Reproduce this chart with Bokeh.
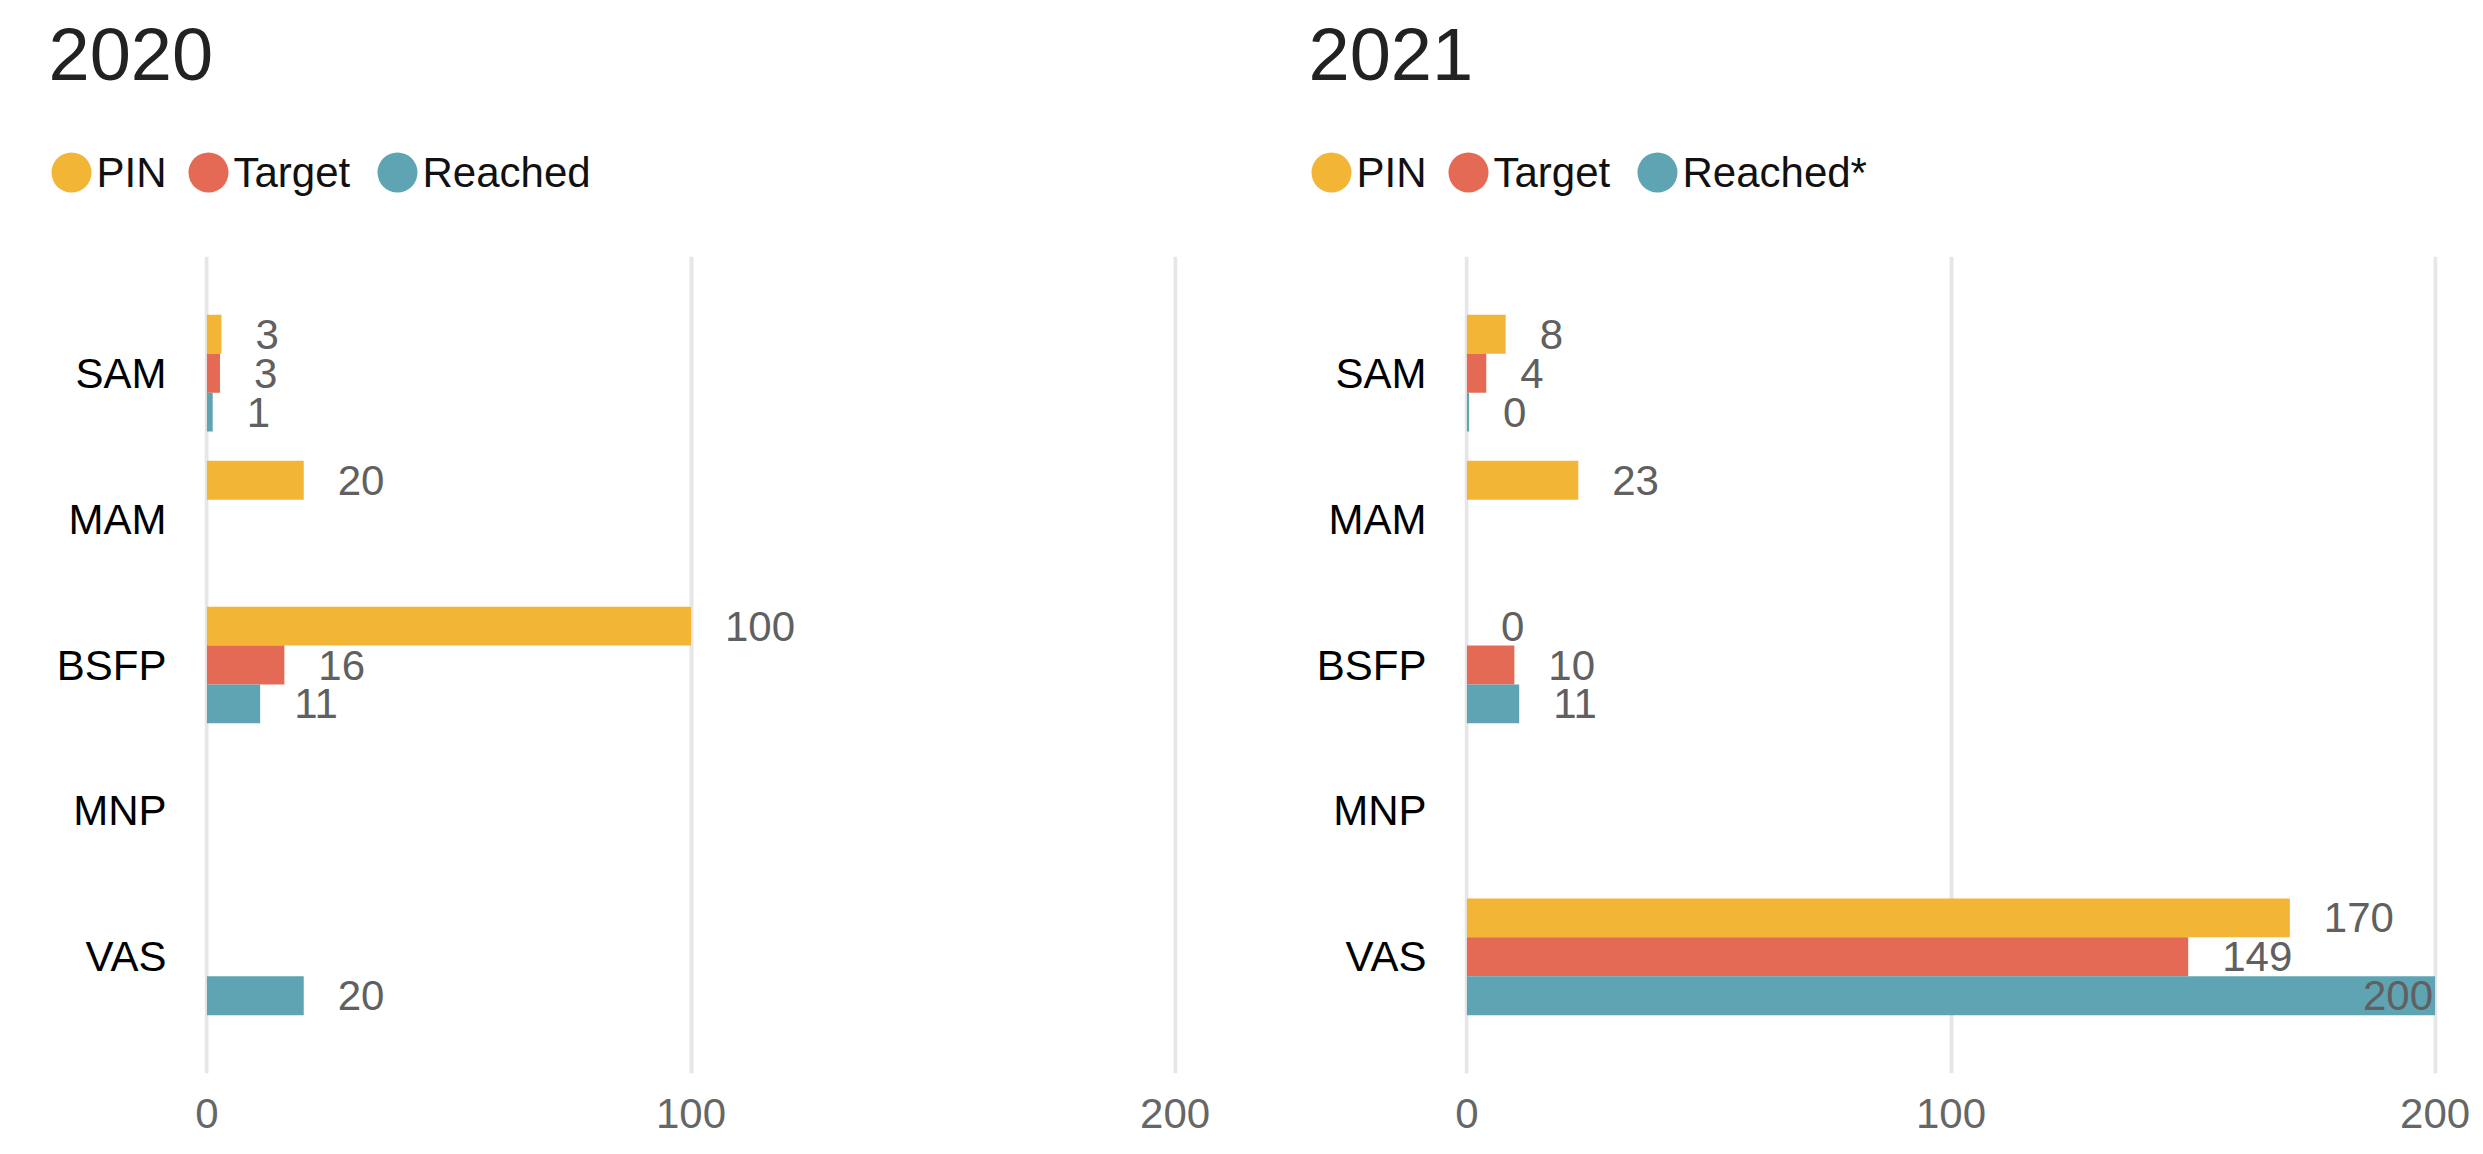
from bokeh.plotting import figure
from bokeh.models import ColumnDataSource, FactorRange, Range1d, FixedTicker
from bokeh.transform import dodge
from bokeh.layouts import row, column
from bokeh.embed import file_html
from bokeh.resources import INLINE
from bokeh.core.properties import value

# ---------------- data ----------------
categories = ["SAM", "MAM", "BSFP", "MNP", "VAS"]
series = ["PIN", "Target", "Reached"]

pin_2020 = [3, 20, 100, None, None]
target_2020 = [2.7, None, 16, None, None]
reached_2020 = [1.2, None, 11, None, 20]

pin_2021 = [8, 23, 0, None, 170]
target_2021 = [4, None, 9.8, None, 149]
reached_2021 = [0.45, None, 10.8, None, 200]

x_ticks = [0, 100, 200]
legend_2020 = ["PIN", "Target", "Reached"]
legend_2021 = ["PIN", "Target", "Reached*"]

# ---------------- style / layout ----------------
COLORS = ["#F2B535", "#E56A55", "#5FA4B3"]
FONT = "Liberation Sans"
BAR_H = 0.2667
OFFSETS = [BAR_H, 0.0, -BAR_H]
HEADER_H = 256
CHART_H = 890
LEGEND_X = [71, 208, 397]      # circle centres, px from panel left
LEGEND_Y = 84                  # px from header bottom
LEGEND_TEXT_DX = 25
TITLE_X = 48
TITLE_Y = 202


def make_header(title, legend_labels, width):
    h = figure(width=width, height=HEADER_H, title=None,
               x_range=Range1d(0, width), y_range=Range1d(0, HEADER_H),
               output_backend="svg", toolbar_location=None,
               min_border_left=0, min_border_right=0,
               min_border_top=0, min_border_bottom=0,
               x_axis_location=None, y_axis_location=None)
    h.frame_align = False
    h.outline_line_color = None
    h.grid.visible = False
    h.text(x=[TITLE_X], y=[TITLE_Y], text=[title], text_font=value(FONT),
           text_font_size="74px", text_color="#222222",
           text_baseline="alphabetic", text_align="left")
    h.scatter(x=LEGEND_X, y=[LEGEND_Y] * len(LEGEND_X), marker="circle",
              size=40, fill_color=COLORS, line_color=None)
    h.text(x=[lx + LEGEND_TEXT_DX for lx in LEGEND_X], y=[LEGEND_Y] * len(LEGEND_X),
           text=legend_labels, text_font=value(FONT), text_font_size="42px",
           text_color="#111111", text_baseline="middle", text_align="left")
    return h


def make_chart(data, width, border_right):
    p = figure(width=width, height=CHART_H, title=None,
               y_range=FactorRange(factors=categories[::-1], range_padding=0.12),
               x_range=Range1d(-0.5, 200.5),
               output_backend="svg", toolbar_location=None,
               min_border_left=204, min_border_right=border_right,
               min_border_top=0, min_border_bottom=73)
    p.frame_align = False
    p.outline_line_color = None
    p.background_fill_color = "white"

    for vals, off, color in zip(data, OFFSETS, COLORS):
        cats = [c for c, v in zip(categories, vals) if v is not None]
        vs = [v for v in vals if v is not None]
        src = ColumnDataSource(dict(cat=cats, v=vs))
        p.hbar(y=dodge("cat", off, range=p.y_range), left=0, right="v",
               height=BAR_H, source=src, fill_color=color, line_color=None)

        out_idx = [i for i, v in enumerate(vs) if v < 185]
        in_idx = [i for i, v in enumerate(vs) if v >= 185]
        src_out = ColumnDataSource(dict(cat=[cats[i] for i in out_idx],
                                        v=[vs[i] for i in out_idx],
                                        label=[str(int(round(vs[i]))) for i in out_idx]))
        src_in = ColumnDataSource(dict(cat=[cats[i] for i in in_idx],
                                       v=[vs[i] for i in in_idx],
                                       label=[str(int(round(vs[i]))) for i in in_idx]))
        p.text(x="v", y=dodge("cat", off, range=p.y_range), text="label",
               source=src_out, x_offset=34, text_align="left",
               text_baseline="middle", text_font=value(FONT),
               text_font_size="42px", text_color="#606060")
        p.text(x="v", y=dodge("cat", off, range=p.y_range), text="label",
               source=src_in, x_offset=-2, text_align="right",
               text_baseline="middle", text_font=value(FONT),
               text_font_size="42px", text_color="#606060")

    ticker = FixedTicker(ticks=x_ticks)
    p.xaxis.ticker = ticker
    p.xgrid.ticker = ticker
    p.xgrid.grid_line_color = "#E6E6E6"
    p.xgrid.grid_line_width = 4
    p.ygrid.grid_line_color = None

    for ax in (p.xaxis, p.yaxis):
        ax.axis_line_color = None
        ax.major_tick_line_color = None
        ax.minor_tick_line_color = None
        ax.major_tick_out = 0
        ax.major_tick_in = 0
        ax.major_label_text_font = FONT
        ax.major_label_text_font_size = "42px"
    p.xaxis.major_label_text_color = "#666666"
    p.xaxis.major_label_standoff = 25
    p.yaxis.major_label_text_color = "#000000"
    p.yaxis.major_label_standoff = 38
    return p


W1, W2 = 1260, 1215
h1 = make_header("2020", legend_2020, W1)
h2 = make_header("2021", legend_2021, W2)
p1 = make_chart([pin_2020, target_2020, reached_2020], W1, 83)
p2 = make_chart([pin_2021, target_2021, reached_2021], W2, 38)

layout = row(column(h1, p1), column(h2, p2))
open("out.html", "w").write(file_html(layout, INLINE))
